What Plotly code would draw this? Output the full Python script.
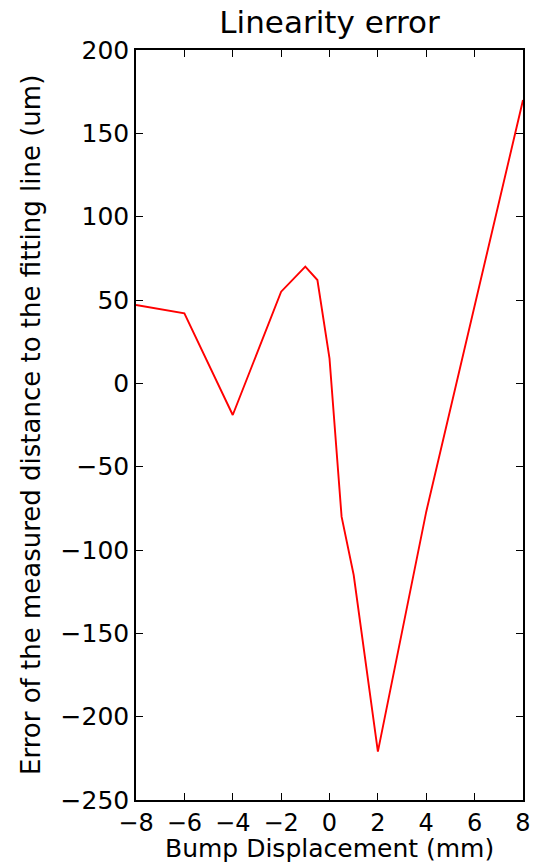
import plotly.graph_objects as go

# Bump displacement (mm) and linearity error (um)
displacement = [-8, -6, -4, -2, -1, -0.5, 0, 0.5, 1, 2, 4, 6, 8]
error_um = [47, 42, -19, 55, 70, 62, 15, -80, -115, -221, -77, 47, 170]

FONT = "DejaVu Sans"
W, H = 546, 867
M_L, M_R, M_T, M_B = 136, 23, 50, 67
PLOT_W = W - M_L - M_R
PLOT_H = H - M_T - M_B

fig = go.Figure(
    go.Scatter(
        x=displacement,
        y=error_um,
        mode="lines",
        line=dict(color="#ff0000", width=1.9),
        showlegend=False,
    )
)

axis_common = dict(
    showline=True,
    linecolor="black",
    linewidth=1.5,
    mirror="allticks",
    ticks="inside",
    ticklen=7,
    tickwidth=1,
    tickcolor="black",
    showgrid=False,
    zeroline=False,
    automargin=False,
)

fig.update_layout(
    width=W,
    height=H,
    margin=dict(l=M_L, r=M_R, t=M_T, b=M_B),
    paper_bgcolor="white",
    plot_bgcolor="white",
    font=dict(family=FONT, color="black"),
    title=dict(
        text="Linearity error",
        font=dict(family=FONT, size=31, color="black"),
        x=0.5,
        xref="paper",
        xanchor="center",
        y=1 - 22 / H,
        yref="container",
        yanchor="middle",
    ),
    xaxis=dict(
        range=[-8, 8],
        tickmode="array",
        tickvals=[-8, -6, -4, -2, 0, 2, 4, 6, 8],
        ticktext=["\u22128", "\u22126", "\u22124", "\u22122", "0", "2", "4", "6", "8"],
        tickfont=dict(family=FONT, size=24, color="black"),
        **axis_common,
    ),
    yaxis=dict(
        range=[-250, 200],
        tickmode="array",
        tickvals=[-250, -200, -150, -100, -50, 0, 50, 100, 150, 200],
        ticktext=["\u2212250", "\u2212200", "\u2212150", "\u2212100", "\u221250",
                  "0", "50", "100", "150", "200"],
        tickfont=dict(family=FONT, size=25, color="black"),
        **axis_common,
    ),
)

# Axis titles placed as annotations for fine control of their offsets
fig.add_annotation(
    text="Bump Displacement (mm)",
    xref="paper", yref="paper",
    x=0.5, y=-(849 - (H - M_B)) / PLOT_H,
    xanchor="center", yanchor="middle",
    showarrow=False,
    borderpad=0,
    font=dict(family=FONT, size=25, color="black"),
)
fig.add_annotation(
    text="Error of the measured distance to the fitting line (um)",
    xref="paper", yref="paper",
    x=(31 - M_L) / PLOT_W, y=0.5,
    xanchor="center", yanchor="middle",
    textangle=-90,
    showarrow=False,
    borderpad=0,
    font=dict(family=FONT, size=26, color="black"),
)

fig.write_html("out.html")
